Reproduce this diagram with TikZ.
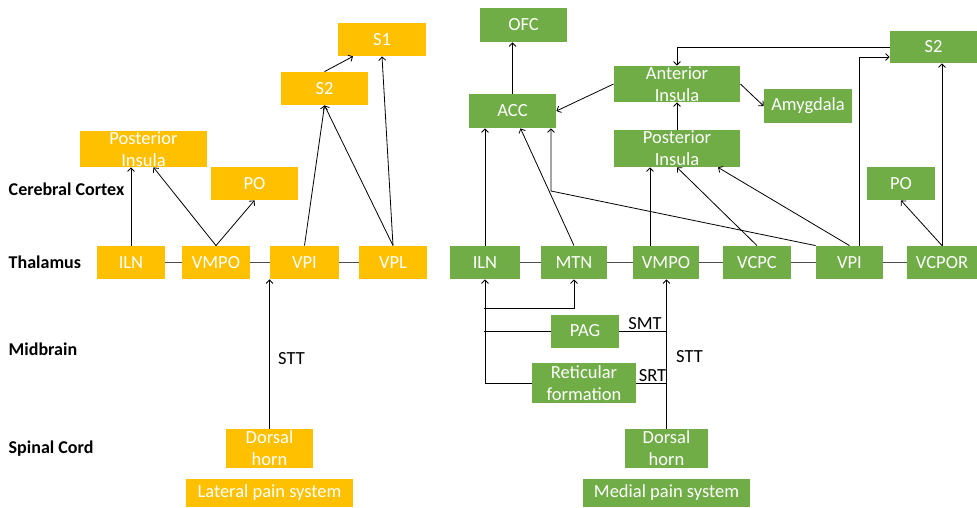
\documentclass[tikz,border=0pt]{standalone}
\usepackage{fontspec}
\setmainfont{Carlito}
\usetikzlibrary{calc,arrows.meta}

\definecolor{painorange}{HTML}{FFC000}
\definecolor{paingreen}{HTML}{70AD47}

\tikzset{
  box/.style={inner sep=0pt, align=center, text=white, minimum height=33pt,
    font=\fontsize{18.5}{22}\selectfont},
  obox/.style={box, fill=painorange},
  gbox/.style={box, fill=paingreen},
  level/.style={anchor=west, font=\fontsize{18}{22}\selectfont\bfseries},
  tract/.style={font=\fontsize{18.5}{22}\selectfont},
  link/.style={draw=black!70, line width=0.9pt},
}

\begin{document}
\begin{tikzpicture}[x=1pt, y=-1pt, line width=0.8pt, >={Straight Barb[length=3.5pt,width=7pt]}]
  \useasboundingbox (0,0) rectangle (977,508);

  % levels
  \node[level] (cortex) at (5,189) {Cerebral Cortex};
  \node[level] (thal) at (5,262) {Thalamus};
  \node[level] (mid) at (5,349) {Midbrain};
  \node[level] (spinal) at (5,449) {Spinal Cord};

  % lateral pain system
  \node[obox, minimum width=127pt, minimum height=36pt] (lPins) at (143.5,149) {Posterior\\Insula};
  \node[obox, minimum width=87pt] (lPo) at (254.5,183.5) {PO};
  \node[obox, minimum width=87pt] (lS2) at (324.5,88.5) {S2};
  \node[obox, minimum width=88pt] (lS1) at (382,39.5) {S1};
  \node[obox, minimum width=68pt] (lIln) at (131,262.5) {ILN};
  \node[obox, minimum width=68pt] (lVmpo) at (216,262.5) {VMPO};
  \node[obox, minimum width=69pt] (lVpi) at (304.5,262.5) {VPI};
  \node[obox, minimum width=68pt] (lVpl) at (393,262.5) {VPL};
  \node[obox, minimum width=87pt, minimum height=39pt] (lDh) at (269.5,448.5) {Dorsal\\horn};
  \node[obox, minimum width=167pt, minimum height=28pt] (lSys) at (269.5,493) {Lateral pain system};

  \path[link] (lIln) -- (lVmpo) -- (lVpi) -- (lVpl);
  \path[->]
    (lIln.north) edge (lIln.north |- lPins.south)
    (lVmpo.north) edge ([xshift=10pt]lPins.south)
    (lVmpo.north) edge (lPo.south)
    (lVpi.north) edge (lS2.south)
    (lVpl.north) edge (lS2.south)
    (lVpl.north) edge (lS1.south)
    (lS2.north) edge ([xshift=-29pt]lS1.south)
    (lDh.north) edge node[tract, pos=0.47, right=5pt] {STT} (lDh.north |- lVpi.south);

  % medial pain system
  \node[gbox, minimum width=87pt, minimum height=34pt] (rOfc) at (523.5,25) {OFC};
  \node[gbox, minimum width=87pt, minimum height=34pt] (rAcc) at (512.5,111) {ACC};
  \node[gbox, minimum width=126pt, minimum height=36pt] (rAins) at (677,84) {Anterior\\Insula};
  \node[gbox, minimum width=88pt, minimum height=34pt] (rAmy) at (808,106) {Amygdala};
  \node[gbox, minimum width=126pt, minimum height=37pt] (rPins) at (677,148.5) {Posterior\\Insula};
  \node[gbox, minimum width=87pt, minimum height=32pt] (rS2) at (933.5,47) {S2};
  \node[gbox, minimum width=68pt] (rPo) at (901,183.5) {PO};
  \node[gbox, minimum width=70pt] (rIln) at (485,262.5) {ILN};
  \node[gbox, minimum width=66pt] (rMtn) at (574,262.5) {MTN};
  \node[gbox, minimum width=66pt] (rVmpo) at (666,262.5) {VMPO};
  \node[gbox, minimum width=68pt] (rVcpc) at (757,262.5) {VCPC};
  \node[gbox, minimum width=67pt] (rVpi) at (849.5,262.5) {VPI};
  \node[gbox, minimum width=70pt] (rVcpor) at (942,262.5) {VCPOR};
  \node[gbox, minimum width=68pt] (rPag) at (585,331) {PAG};
  \node[gbox, minimum width=104pt, minimum height=40pt] (rRet) at (584,383) {Reticular\\formation};
  \node[gbox, minimum width=83pt, minimum height=39pt] (rDh) at (666.5,448.5) {Dorsal\\horn};
  \node[gbox, minimum width=167pt, minimum height=28pt] (rSys) at (666.5,493) {Medial pain system};

  \coordinate (rBend) at (551,191);
  \coordinate (rSplit) at (484,308);

  \path[link] (rIln) -- (rMtn) -- (rVmpo) -- (rVcpc) -- (rVpi) -- (rVcpor);
  \path[->]
    (rAcc.north) edge (rAcc.north |- rOfc.south)
    (rAins.west) edge (rAcc.east)
    (rAins.east) edge (rAmy.west)
    (rPins.north) edge (rAins.south)
    (rIln.north) edge (rIln.north |- rAcc.south)
    (rMtn.north) edge ([xshift=8pt]rAcc.south)
    ([xshift=-16pt]rVmpo.north) edge ([xshift=-16pt]rVmpo.north |- rPins.south)
    (rVcpc.north) edge (rPins.south)
    (rVpi.north) edge ([xshift=41pt]rPins.south)
    (rVcpor.north) edge (rVcpor.north |- rS2.south)
    (rVcpor.north) edge (rPo.south)
    (rDh.north) edge node[tract, pos=0.48, right=6pt] {STT} (rDh.north |- rVmpo.south);
  \draw[->] (rS2.west) -| (rAins.north);
  \draw[->] ([xshift=10pt]rVpi.north) |- ([yshift=-10pt]rS2.west);
  \draw[->] (rVpi.north west) -- (rBend) -- (rBend |- rAcc.south);
  \draw[->] (rRet.west) -| (rIln.south);
  \draw (rPag.west) -- (rPag.west -| rSplit);
  \draw[->] (rSplit) -| (rMtn.south);
  \draw (rPag.east) -- node[tract, above, xshift=2pt, inner sep=1pt] {SMT} (rPag.east -| rDh.north);
  \draw (rRet.east) -- node[tract, above, xshift=1pt, inner sep=1pt] {SRT} (rRet.east -| rDh.north);
\end{tikzpicture}
\end{document}
